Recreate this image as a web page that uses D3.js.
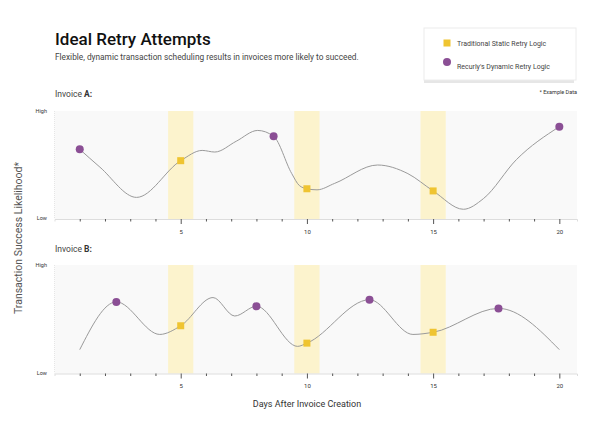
<!DOCTYPE html>
<html>
<head>
  <meta charset="UTF-8">
  <style>
    body { margin: 0; background: #fff; }
    svg { display: block; font-family: Roboto, "Open Sans", sans-serif; }
  </style>
</head>
<body>
<svg></svg>
<script src="https://d3js.org/d3.v7.min.js"></script>
<script>
// ---- data ----
const days = d3.range(1, 21);
const majorDays = [5, 10, 15, 20];
const staticDays = [5, 10, 15];

// invoice A: smooth likelihood curve (0 = low, 1 = high)
const curveADays   = [1, 1.8, 3.25, 5, 5.85, 6.35, 7.2, 8.05, 8.68, 9.4, 9.7, 10, 10.4, 11.1, 12.8, 14, 15, 16.2, 17, 18.3, 20];
const curveAValues = [0.645, 0.48, 0.2, 0.54, 0.635, 0.62, 0.72, 0.82, 0.766, 0.42, 0.31, 0.28, 0.27, 0.33, 0.5, 0.42, 0.26, 0.09, 0.19, 0.55, 0.855];
const staticAValues  = [0.54, 0.28, 0.26];
const dynamicADays   = [1, 8.68, 20];
const dynamicAValues = [0.645, 0.766, 0.855];

// invoice B
const curveBDays   = [1, 2.45, 4.17, 5, 6.28, 7.14, 8, 9.63, 10, 12.48, 14.2, 15, 17.59, 20];
const curveBValues = [0.22, 0.66, 0.36, 0.44, 0.70, 0.53, 0.62, 0.25, 0.28, 0.68, 0.36, 0.38, 0.60, 0.22];
const staticBValues  = [0.44, 0.28, 0.38];
const dynamicBDays   = [2.45, 8, 12.48, 17.59];
const dynamicBValues = [0.66, 0.62, 0.68, 0.60];

const legendLabels = ["Traditional Static Retry Logic", "Recurly's Dynamic Retry Logic"];

// ---- colours ----
const gold = "#efc431", purple = "#8b4f95", band = "#fcf3cd", panelBg = "#f9f9f9";

let width = 600, height = 425;
let svg = d3.select("svg").attr("width", width).attr("height", height);

const x = d3.scaleLinear().domain([0, 20.7]).range([54.5, 577]);

// title block
svg.append("text").attr("x", 55).attr("y", 45)
  .style("font-size", "17px").style("font-weight", 500).attr("fill", "#111")
  .text("Ideal Retry Attempts");
svg.append("text").attr("x", 55).attr("y", 60)
  .style("font-size", "8.3px").attr("fill", "#444")
  .text("Flexible, dynamic transaction scheduling results in invoices more likely to succeed.");

// legend
const leg = svg.append("g").attr("transform", "translate(424,28)");
leg.append("rect").attr("x", 0).attr("y", 2).attr("width", 150).attr("height", 53).attr("fill", "#e6e6e6");
leg.append("rect").attr("width", 152).attr("height", 52).attr("fill", "#fff").attr("stroke", "#ececec");
leg.append("rect").attr("x", 19.5).attr("y", 11.5).attr("width", 7).attr("height", 7).attr("fill", gold);
leg.append("circle").attr("cx", 23).attr("cy", 34).attr("r", 4).attr("fill", purple);
leg.selectAll("text.lab").data(legendLabels).join("text").attr("class", "lab")
  .attr("x", 33).attr("y", (d, i) => 18 + i * 22.5)
  .style("font-size", "7px").attr("fill", "#444").text(d => d);

svg.append("text").attr("x", 577).attr("y", 94).attr("text-anchor", "end")
  .style("font-size", "5.5px").attr("fill", "#333").text("* Example Data");

// y axis title
svg.append("text").attr("transform", "translate(22,238) rotate(-90)")
  .attr("text-anchor", "middle").style("font-size", "10.5px").attr("fill", "#555")
  .text("Transaction Success Likelihood*");

// x axis title
svg.append("text").attr("x", 307).attr("y", 407).attr("text-anchor", "middle")
  .style("font-size", "9px").attr("fill", "#333").text("Days After Invoice Creation");

function drawPanel(label, top, bottom, cDays, cVals, sVals, dDays, dVals, labelY) {
  const y = d3.scaleLinear().domain([0, 1]).range([bottom, top]);
  const g = svg.append("g");

  const t = g.append("text").attr("x", 55).attr("y", labelY)
    .style("font-size", "8.5px").attr("fill", "#444");
  t.append("tspan").text("Invoice ");
  t.append("tspan").style("font-weight", 700).attr("fill", "#333").text(label + ":");

  g.append("rect").attr("x", x.range()[0]).attr("y", top)
    .attr("width", x.range()[1] - x.range()[0]).attr("height", bottom - top).attr("fill", panelBg);
  g.append("line").attr("x1", x.range()[0]).attr("x2", x.range()[0]).attr("y1", top).attr("y2", bottom)
    .attr("stroke", "#e6e6e6").attr("stroke-dasharray", "1,1");

  g.selectAll("rect.band").data(staticDays).join("rect").attr("class", "band")
    .attr("x", d => x(d - 0.5)).attr("y", top)
    .attr("width", d => x(d + 0.5) - x(d - 0.5)).attr("height", bottom - top)
    .attr("fill", band);

  const ax = d3.axisBottom(x).tickValues(days).tickSizeOuter(0)
    .tickSize(2.5).tickPadding(8)
    .tickFormat(d => majorDays.includes(d) ? d : "");
  const axG = g.append("g").attr("transform", `translate(0,${bottom})`).call(ax);
  axG.select(".domain").attr("stroke", "#ddd");
  axG.selectAll(".tick line").attr("stroke", "#555")
    .attr("y2", d => majorDays.includes(d) ? 5 : 2.5);
  axG.selectAll(".tick text").style("font-size", "6px").attr("fill", "#333")
    .style("font-family", "Roboto, sans-serif");

  g.append("text").attr("x", 47).attr("y", top + 2).attr("text-anchor", "end")
    .style("font-size", "5.5px").attr("fill", "#333").text("High");
  g.append("text").attr("x", 47).attr("y", bottom + 1).attr("text-anchor", "end")
    .style("font-size", "5.5px").attr("fill", "#333").text("Low");

  const line = d3.line().x(d => x(d[0])).y(d => y(d[1])).curve(d3.curveMonotoneX);
  g.append("path").datum(d3.zip(cDays, cVals)).attr("d", line)
    .attr("fill", "none").attr("stroke", "#9a9a9a").attr("stroke-width", 1);

  g.selectAll("rect.sq").data(d3.zip(staticDays, sVals)).join("rect").attr("class", "sq")
    .attr("x", d => x(d[0]) - 3.5).attr("y", d => y(d[1]) - 3.5)
    .attr("width", 7).attr("height", 7).attr("fill", gold);
  g.selectAll("circle.dot").data(d3.zip(dDays, dVals)).join("circle").attr("class", "dot")
    .attr("cx", d => x(d[0])).attr("cy", d => y(d[1])).attr("r", 4).attr("fill", purple);
}

drawPanel("A", 111, 219, curveADays, curveAValues, staticAValues, dynamicADays, dynamicAValues, 97);
drawPanel("B", 265, 373.5, curveBDays, curveBValues, staticBValues, dynamicBDays, dynamicBValues, 252);
</script>
</body>
</html>
